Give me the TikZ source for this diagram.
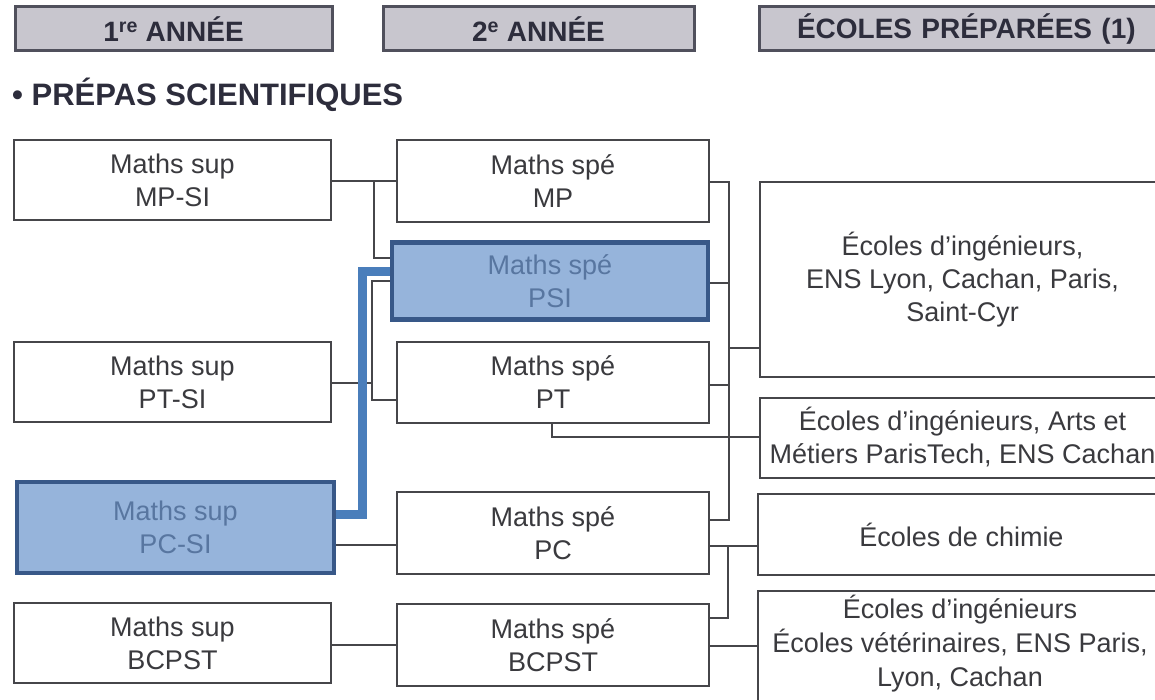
\documentclass[tikz,border=0pt]{standalone}
\usepackage{fontspec}
\setmainfont{Liberation Sans}
\begin{document}
\begin{tikzpicture}[x=1pt,y=-1pt,
  box/.style={draw=boxline, line width=2pt, fill=white, text=txt, align=center,
    font=\fontsize{27}{33}\selectfont, inner sep=0pt},
  bluebox/.style={box, draw=bluedark, line width=4.5pt, fill=bluefill, text=bluetxt},
  hdr/.style={draw=hdrline, line width=3pt, fill=hdrfill, text=hdrtxt, inner sep=0pt,
    minimum height=44pt, font=\fontsize{28}{30}\selectfont\bfseries},
  conn/.style={draw=boxline, line width=1.8pt},
  blueline/.style={draw=blueconn, line width=9pt, line join=miter}
]
\definecolor{boxline}{RGB}{70,70,74}
\definecolor{txt}{RGB}{58,58,62}
\definecolor{bluedark}{RGB}{56,88,136}
\definecolor{bluefill}{RGB}{150,180,219}
\definecolor{bluetxt}{RGB}{88,118,160}
\definecolor{blueconn}{RGB}{74,126,187}
\definecolor{hdrline}{RGB}{80,80,92}
\definecolor{hdrfill}{RGB}{200,198,206}
\definecolor{hdrtxt}{RGB}{45,45,60}
\clip (0,0) rectangle (1155,700);
\fill[white] (0,0) rectangle (1155,700);

% headers
\node[hdr, minimum width=317pt] (h1) at (173.5,29) {1\textsuperscript{re} ANNÉE};
\node[hdr, minimum width=311pt] (h2) at (538.5,29) {2\textsuperscript{e} ANNÉE};
\node[hdr, minimum width=410pt, text width=380pt, align=left] (h3) at (964,29) {\hspace*{23pt}ÉCOLES PRÉPARÉES (1)};
\node[anchor=west, text=hdrtxt, inner sep=0pt, font=\fontsize{31}{32}\selectfont\bfseries] (title) at (12,95) {• PRÉPAS SCIENTIFIQUES};

% first year
\node[box, minimum width=317pt, minimum height=80pt] (supMPSI) at (172.5,180) {Maths sup\\MP-SI};
\node[box, minimum width=317pt, minimum height=80pt] (supPTSI) at (172.5,382) {Maths sup\\PT-SI};
\node[bluebox, minimum width=317pt, minimum height=91pt] (supPCSI) at (175.5,527.5) {Maths sup\\PC-SI};
\node[box, minimum width=317pt, minimum height=80pt] (supBC) at (172.5,643) {Maths sup\\BCPST};

% second year
\node[box, minimum width=312pt, minimum height=82pt] (speMP) at (553,181) {Maths spé\\MP};
\node[bluebox, minimum width=316pt, minimum height=77pt] (spePSI) at (550,281) {Maths spé\\PSI};
\node[box, minimum width=312pt, minimum height=81pt] (spePT) at (553,382.5) {Maths spé\\PT};
\node[box, minimum width=312pt, minimum height=82pt] (spePC) at (553,533) {Maths spé\\PC};
\node[box, minimum width=312pt, minimum height=82pt] (speBC) at (553,645) {Maths spé\\BCPST};

% schools
\node[box, minimum width=405pt, minimum height=195pt] (eIng) at (962.5,279.5) {Écoles d’ingénieurs,\\ENS Lyon, Cachan, Paris,\\Saint-Cyr};
\node[box, minimum width=405pt, minimum height=80pt] (eArts) at (962.5,437.5) {Écoles d’ingénieurs, Arts et\\Métiers ParisTech, ENS Cachan};
\node[box, minimum width=407pt, minimum height=81pt] (eChim) at (961.5,534.5) {Écoles de chimie};
\node[box, minimum width=408pt, minimum height=140pt, anchor=north west] (eVet) at (757,590) {};
\node[text=txt, align=center, font=\fontsize{27}{34}\selectfont, inner sep=0pt] (eVetT) at (960,644) {Écoles d’ingénieurs\\Écoles vétérinaires, ENS Paris,\\Lyon, Cachan};

% junction coordinates
\coordinate (j1) at (374,181);
\coordinate (j1b) at (374,258);
\coordinate (j2t) at (372,281);
\coordinate (j2m) at (372,383);
\coordinate (j2b) at (372,400);
\coordinate (b1) at (362,514);
\coordinate (b2) at (362,272);
\coordinate (jPC) at (372,545);
\coordinate (jBC) at (372,645);
\coordinate (bus1) at (729,182);
\coordinate (bpsi) at (729,283);
\coordinate (bpt) at (729,385);
\coordinate (bus3) at (729,348);
\coordinate (bus2) at (729,520);
\coordinate (pt1) at (552,437);
\coordinate (c1) at (728,546);
\coordinate (c2) at (728,618);
\coordinate (v1) at (730,646);

% first -> second year
\draw[conn] (supMPSI.east |- j1) -- (speMP.west |- j1);
\draw[conn] (j1) -- (j1b) -- (spePSI.west |- j1b);
\draw[conn] (supPTSI.east |- j2m) -- (j2m);
\draw[conn] (spePSI.west |- j2t) -- (j2t) -- (j2b) -- (spePT.west |- j2b);
\draw[conn] (supPCSI.east |- jPC) -- (spePC.west |- jPC);
\draw[conn] (supBC.east |- jBC) -- (speBC.west |- jBC);
\draw[blueline] (supPCSI.east |- b1) -- (b1) -- (b2) -- (spePSI.west |- b2);

% second year -> schools
\draw[conn] (speMP.east |- bus1) -- (bus1) -- (bus2) -- (spePC.east |- bus2);
\draw[conn] (spePSI.east |- bpsi) -- (bpsi);
\draw[conn] (spePT.east |- bpt) -- (bpt);
\draw[conn] (bus3) -- (eIng.west |- bus3);
\draw[conn] (spePT.south -| pt1) -- (pt1) -- (eArts.west |- pt1);
\draw[conn] (spePC.east |- c1) -- (eChim.west |- c1);
\draw[conn] (c1) -- (c2) -- (speBC.east |- c2);
\draw[conn] (speBC.east |- v1) -- (eVet.west |- v1);
\end{tikzpicture}
\end{document}
